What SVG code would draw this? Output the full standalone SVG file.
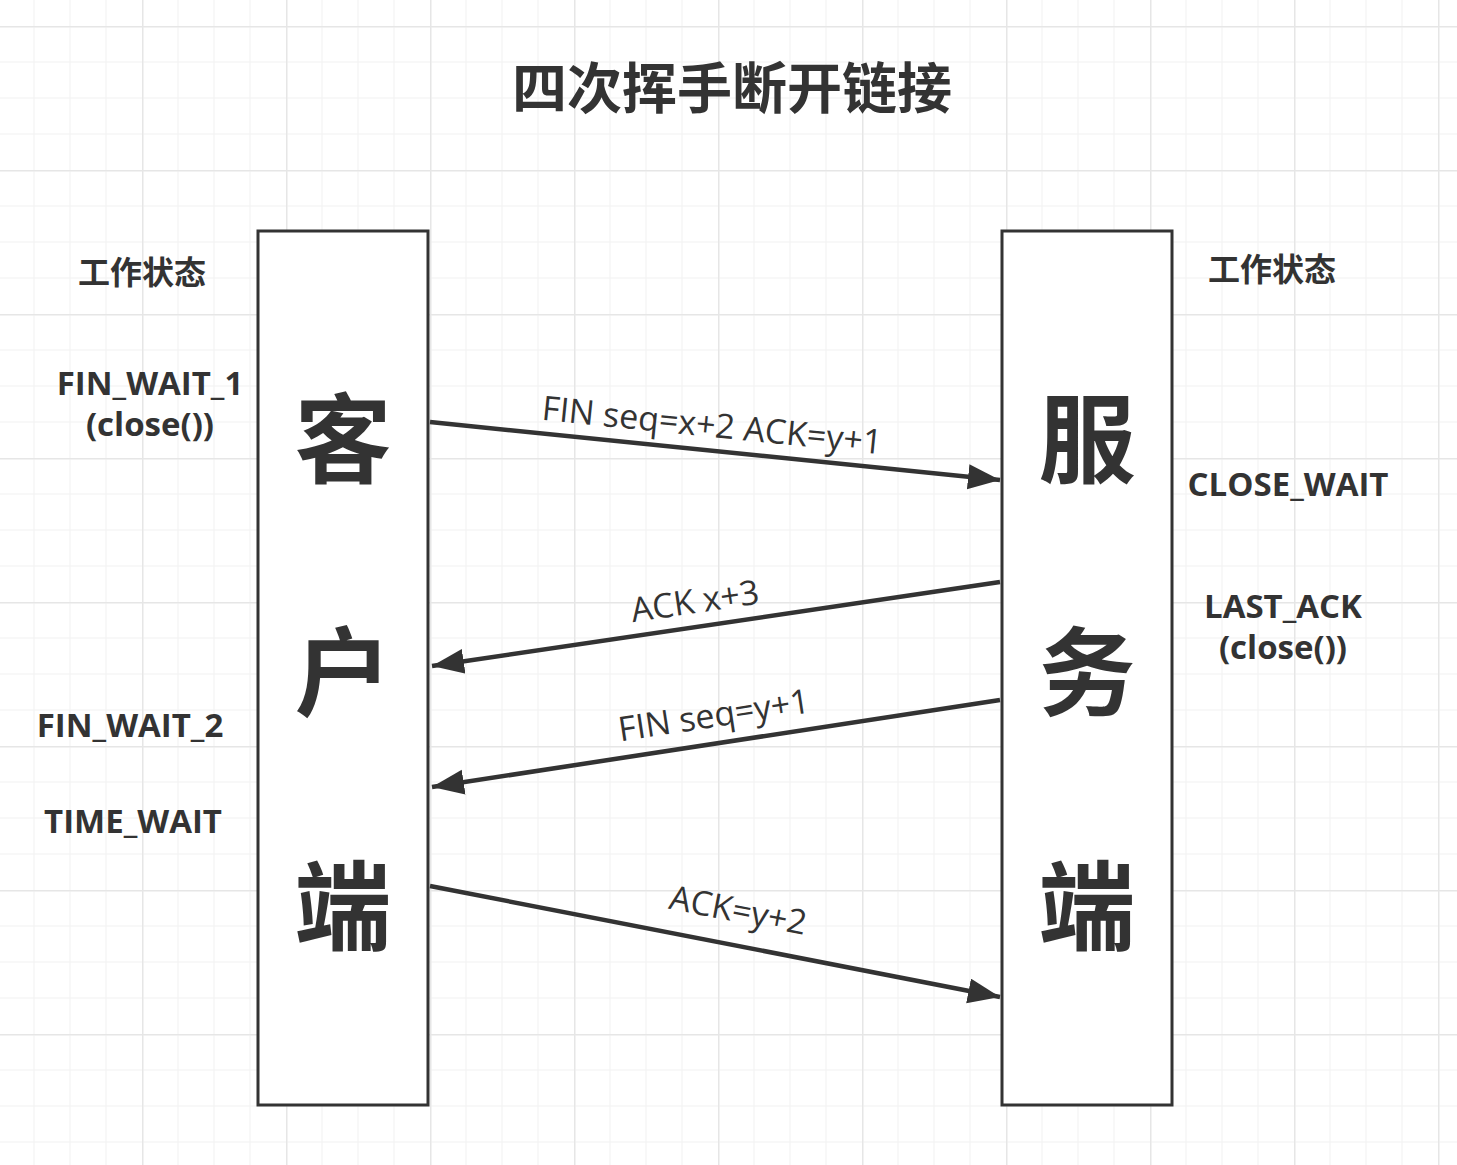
<svg xmlns="http://www.w3.org/2000/svg" width="1457" height="1165" viewBox="0 0 1457 1165">
<style>
.title{font-family:"Noto Sans CJK SC",sans-serif;font-weight:bold;font-size:55px;fill:#333;text-anchor:middle}
.big{font-family:"Noto Sans CJK SC",sans-serif;font-weight:bold;font-size:97px;fill:#333;text-anchor:middle}
.state{font-family:"Open Sans","Noto Sans CJK SC",sans-serif;font-weight:bold;font-size:33px;fill:#333;text-anchor:middle}
.cjk{font-family:"Noto Sans CJK SC",sans-serif;font-weight:bold;font-size:32px;fill:#333;text-anchor:middle}
.lbl{font-family:"Open Sans","Noto Sans",sans-serif;font-size:34px;fill:#333;text-anchor:middle}
.box{fill:#fff;stroke:#333;stroke-width:3}
.conn{stroke:#333;stroke-width:4.5;fill:none}
</style>
<defs>
<pattern id="grid" x="-2" y="26" width="144" height="144" patternUnits="userSpaceOnUse">
<rect x="35.5" y="0" width="1" height="144" fill="#f1f1f1"/>
<rect x="71.5" y="0" width="1" height="144" fill="#f1f1f1"/>
<rect x="107.5" y="0" width="1" height="144" fill="#f1f1f1"/>
<rect x="0" y="35.5" width="144" height="1" fill="#f1f1f1"/>
<rect x="0" y="71.5" width="144" height="1" fill="#f1f1f1"/>
<rect x="0" y="107.5" width="144" height="1" fill="#f1f1f1"/>
<rect x="0" y="0" width="1.5" height="144" fill="#e6e6e6"/>
<rect x="0" y="0" width="144" height="1.5" fill="#e6e6e6"/>
</pattern>
<marker id="arr" markerUnits="userSpaceOnUse" markerWidth="34" markerHeight="26" refX="32" refY="12.5" orient="auto">
<path d="M0,0 L32,12.5 L0,25 z" fill="#333"/>
</marker>
</defs>
<rect width="1457" height="1165" fill="#fff"/>
<rect width="1457" height="1165" fill="url(#grid)"/>
<text class="title" x="732" y="108">四次挥手断开链接</text>
<g id="client">
<rect class="box" x="258" y="231" width="170" height="874"/>
<text class="big" x="343" y="475">客</text>
<text class="big" x="343" y="708">户</text>
<text class="big" x="343" y="942">端</text>
</g>
<g id="server">
<rect class="box" x="1002" y="231" width="170" height="874"/>
<text class="big" x="1087" y="475">服</text>
<text class="big" x="1087" y="708">务</text>
<text class="big" x="1087" y="942">端</text>
</g>
<g id="client-states">
<text class="cjk" x="142" y="284">工作状态</text>
<text class="state" x="150" y="395">FIN_WAIT_1</text>
<text class="state" x="150" y="436">(close())</text>
<text class="state" x="130" y="737">FIN_WAIT_2</text>
<text class="state" x="133" y="833">TIME_WAIT</text>
</g>
<g id="server-states">
<text class="cjk" x="1272" y="281">工作状态</text>
<text class="state" x="1288" y="496">CLOSE_WAIT</text>
<text class="state" x="1283" y="618">LAST_ACK</text>
<text class="state" x="1283" y="659">(close())</text>
</g>
<g id="connectors">
<line class="conn" x1="430" y1="422" x2="1000" y2="480" marker-end="url(#arr)"/>
<line class="conn" x1="1000" y1="582" x2="432" y2="666" marker-end="url(#arr)"/>
<line class="conn" x1="1000" y1="700" x2="432" y2="787" marker-end="url(#arr)"/>
<line class="conn" x1="430" y1="886" x2="1000" y2="997" marker-end="url(#arr)"/>
<text class="lbl" transform="translate(712,426) rotate(5.8)" x="0" y="11">FIN seq=x+2 ACK=y+1</text>
<text class="lbl" transform="translate(695,602) rotate(-8.4)" x="0" y="11">ACK x+3</text>
<text class="lbl" transform="translate(714,716) rotate(-8.7)" x="0" y="11">FIN seq=y+1</text>
<text class="lbl" transform="translate(738,911) rotate(11)" x="0" y="11">ACK=y+2</text>
</g>
</svg>
